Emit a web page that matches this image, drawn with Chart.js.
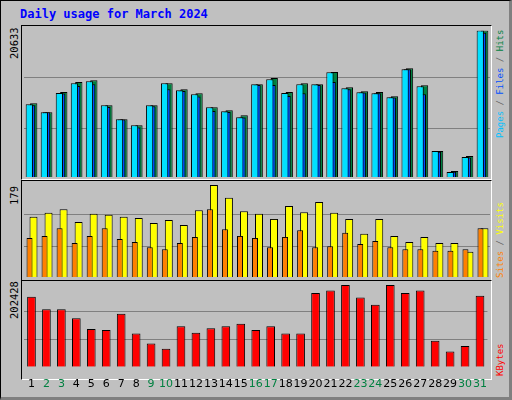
<!DOCTYPE html>
<html><head><meta charset="utf-8">
<script src="https://cdn.jsdelivr.net/npm/chart.js@4"></script>
<style>
html,body{margin:0;padding:0;background:#fff;}
#wrap{position:absolute;left:0;top:0;width:508px;height:396px;background:#C0C0C0;border-top:1px solid #000;border-left:1px solid #000;border-right:3px solid #808080;border-bottom:3px solid #808080;overflow:hidden;font-family:"DejaVu Sans Mono",monospace;}
.abs{position:absolute;}
canvas{position:absolute;}
.frame{position:absolute;left:20px;width:471px;border-top:1px solid #000;border-left:1px solid #000;border-right:1px solid #fff;border-bottom:1px solid #fff;box-sizing:border-box;}
.rot{position:absolute;transform-origin:0 0;transform:rotate(-90deg);white-space:nowrap;line-height:1;}
.l{font-size:10.5px;color:#000;}
.r{font-size:9px;}
</style></head><body>
<div id="wrap">
<div class="abs" style="left:19px;top:6px;color:#0000FF;font-weight:bold;font-size:12px;">Daily usage for March 2024</div>
<div class="frame" style="top:24px;height:155px;"></div>
<div class="frame" style="top:179px;height:101px;"></div>
<div class="frame" style="top:279px;height:100px;"></div>
<div class="rot l" style="left:8px;top:58px;">20633</div>
<div class="rot l" style="left:8px;top:204px;">179</div>
<div class="rot l" style="left:8px;top:318px;">202428</div>
<div class="rot r" style="left:495px;top:137px;"><span style="color:#00C0FF">Pages</span><span style="color:#606060"> / </span><span style="color:#0050FF">Files</span><span style="color:#606060"> / </span><span style="color:#008040">Hits</span></div>
<div class="rot r" style="left:495px;top:277px;"><span style="color:#FF8000">Sites</span><span style="color:#606060"> / </span><span style="color:#FFFF00">Visits</span></div>
<div class="rot r" style="left:495px;top:375px;color:#FF0000;">KBytes</div>
<canvas id="c1" class="abs" style="left:23px;top:26px;width:466px;height:150px;"></canvas>
<canvas id="c2" class="abs" style="left:23px;top:181px;width:466px;height:95px;"></canvas>
<canvas id="c3" class="abs" style="left:23px;top:281px;width:466px;height:112px;"></canvas>
</div>
<script>
const days = ["1","2","3","4","5","6","7","8","9","10","11","12","13","14","15","16","17","18","19","20","21","22","23","24","25","26","27","28","29","30","31"];
const weekend = [2,3,9,10,16,17,23,24,30,31];
const hits = [10387,9123,11977,13381,13615,10106,8141,7299,10106,13194,12352,11790,9825,9404,8702,13054,13942,11977,13194,13054,14785,12633,12071,11977,11369,15300,12913,3649,842,2948,20633];
const files = [10107,9124,11744,12820,13054,9873,8095,6972,9966,12353,12119,11323,9311,9171,8375,12961,12961,11417,11791,12961,13382,12353,11885,11791,11183,15160,11651,3556,749,2761,20306];
const pages = [10247,9124,11838,13195,13476,10107,8141,7299,10107,13195,12212,11651,9826,9264,8422,13054,13756,11838,13054,13054,14739,12493,11931,11791,11230,15160,12774,3650,702,2807,20633];
const visits = [117,125,132,107,123,121,117,115,105,111,101,130,179,154,128,123,113,138,126,146,125,113,84,113,80,68,78,66,66,49,95];
const sites = [76,80,95,66,80,95,74,68,58,54,66,78,132,93,80,76,58,78,91,58,60,86,64,70,58,54,54,51,51,54,95];
const kbytes = [173511,142368,142368,120123,93429,91205,131246,82307,57837,44490,100103,84531,95654,100103,106776,91205,100103,82307,82307,182409,189083,202428,171287,153491,202428,182409,189083,64511,37817,51164,175736];
const maxHits = 20633, maxVisits = 179, maxKB = 202428;

function yScale(max){
  return {display:true,min:0,max:max,border:{display:false},
    grid:{color:'#808080',lineWidth:1,drawTicks:false},
    ticks:{display:false},
    afterBuildTicks:(ax)=>{ax.ticks=[{value:max*0.33},{value:max*0.68}];}};
}
function xScale(show){
  return {display:show,grid:{display:false},border:{display:false},
    ticks:{display:show,padding:3,autoSkip:false,maxRotation:0,font:{family:'DejaVu Sans',size:11},
      color:(c)=>weekend.includes(c.index+1)?'#008040':'#000'}};
}
const common = {responsive:false,animation:false,devicePixelRatio:1,
  plugins:{legend:{display:false},tooltip:{enabled:false}}};
function mk(id,w,h,cfg){const c=document.getElementById(id);c.width=w;c.height=h;return new Chart(c,cfg);}

mk('c1',466,150,{type:'bar',data:{labels:days,datasets:[
  {data:hits,order:3,backgroundColor:'#008040',borderColor:'#000',borderWidth:1,categoryPercentage:0.44,barPercentage:3.3},
  {data:files,order:2,backgroundColor:'#0050FF',borderColor:'#000',borderWidth:1,categoryPercentage:0.44,barPercentage:3.3},
  {data:pages,order:1,backgroundColor:'#00E0FF',borderColor:'#000',borderWidth:1,categoryPercentage:0.44,barPercentage:3.3}]},
  options:Object.assign({},common,{layout:{padding:{top:3.5,left:0,right:0,bottom:0}},scales:{x:xScale(false),y:yScale(maxHits)}})});

mk('c2',466,95,{type:'bar',data:{labels:days,datasets:[
  {data:visits,order:2,backgroundColor:'#FFFF00',borderColor:'#000',borderWidth:1,categoryPercentage:0.53,barPercentage:2.0},
  {data:sites,order:1,backgroundColor:'#FF8000',borderColor:'#000',borderWidth:1,categoryPercentage:0.53,barPercentage:1.5}]},
  options:Object.assign({},common,{layout:{padding:{top:3,left:0,right:0,bottom:0}},scales:{x:xScale(false),y:yScale(maxVisits)}})});

mk('c3',466,112,{type:'bar',data:{labels:days,datasets:[
  {data:kbytes,backgroundColor:'#FF0000',borderColor:'#000',borderWidth:1,categoryPercentage:1,barPercentage:0.58}]},
  options:Object.assign({},common,{layout:{padding:{top:3,left:0,right:0,bottom:0}},scales:{x:xScale(true),y:yScale(maxKB)}})});
</script>
</body></html>
